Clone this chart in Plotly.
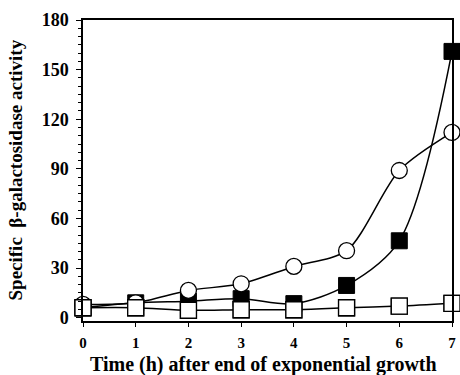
import plotly.graph_objects as go

time_h = [0, 1, 2, 3, 4, 5, 6, 7]
open_circles = [8, 9, 16.5, 20.5, 31, 40.5, 89, 112]
filled_squares = [6, 9, 10, 11.5, 8.5, 19.5, 46.5, 161]
open_squares = [6, 6, 4.5, 4.8, 4.8, 6, 7, 8.7]

y_ticks = [0, 30, 60, 90, 120, 150, 180]
x_ticks = [0, 1, 2, 3, 4, 5, 6, 7]

x_title = "Time (h) after end of exponential growth"
y_title = "Specific  β-galactosidase activity"

font_family = "Liberation Serif"

fig = go.Figure()

fig.add_trace(go.Scatter(
    x=time_h, y=open_squares, mode="lines+markers",
    line=dict(color="black", width=1.5, shape="spline", smoothing=0.8),
    marker=dict(symbol="square", size=16, color="white", line=dict(color="black", width=1.3)),
    cliponaxis=False, showlegend=False))

fig.add_trace(go.Scatter(
    x=time_h, y=filled_squares, mode="lines+markers",
    line=dict(color="black", width=1.5, shape="spline", smoothing=0.9),
    marker=dict(symbol="square", size=16, color="black", line=dict(color="black", width=1)),
    cliponaxis=False, showlegend=False))

fig.add_trace(go.Scatter(
    x=time_h, y=open_circles, mode="lines+markers",
    line=dict(color="black", width=1.5, shape="spline", smoothing=0.8),
    marker=dict(symbol="circle", size=16, color="white", line=dict(color="black", width=1.3)),
    cliponaxis=False, showlegend=False))

# redraw open squares on top so they hide the filled ones at overlapping points
fig.add_trace(go.Scatter(
    x=time_h, y=open_squares, mode="markers",
    marker=dict(symbol="square", size=16, color="white", line=dict(color="black", width=1.3)),
    cliponaxis=False, showlegend=False, hoverinfo="skip"))

fig.update_layout(
    width=460, height=375,
    margin=dict(l=83, r=8, t=20, b=54),
    paper_bgcolor="white", plot_bgcolor="white",
    font=dict(family=font_family, color="black"),
    xaxis=dict(
        range=[0, 7], tickvals=x_ticks, ticktext=[str(v) for v in x_ticks],
        automargin=False,
        showgrid=False, zeroline=False, showline=True, linecolor="black", linewidth=1.5,
        mirror=True, ticks="outside", ticklen=4, tickcolor="black",
        ticklabelstandoff=3,
        tickfont=dict(size=15, family=font_family, weight="bold"),
    ),
    yaxis=dict(
        range=[-2, 180], tickvals=y_ticks, ticktext=[str(v) for v in y_ticks],
        automargin=False,
        showgrid=False, zeroline=False, showline=True, linecolor="black", linewidth=1.5,
        mirror=True, ticks="outside", ticklen=5, tickcolor="black",
        ticklabelstandoff=4,
        tickfont=dict(size=18, family=font_family, weight="bold"),
        minor=dict(dtick=5, tick0=0, ticks="outside", ticklen=3, tickcolor="black", showgrid=False),
    ),
    annotations=[
        dict(text=x_title, xref="paper", yref="paper", x=0.49, y=0, yshift=-43,
             xanchor="center", yanchor="middle", showarrow=False,
             font=dict(size=20, family=font_family, weight="bold")),
        dict(text=y_title, xref="paper", yref="paper", x=0, y=0.5, xshift=-68,
             textangle=-90, xanchor="center", yanchor="middle", showarrow=False,
             font=dict(size=19, family=font_family, weight="bold")),
    ],
)

fig.write_html("out.html")
